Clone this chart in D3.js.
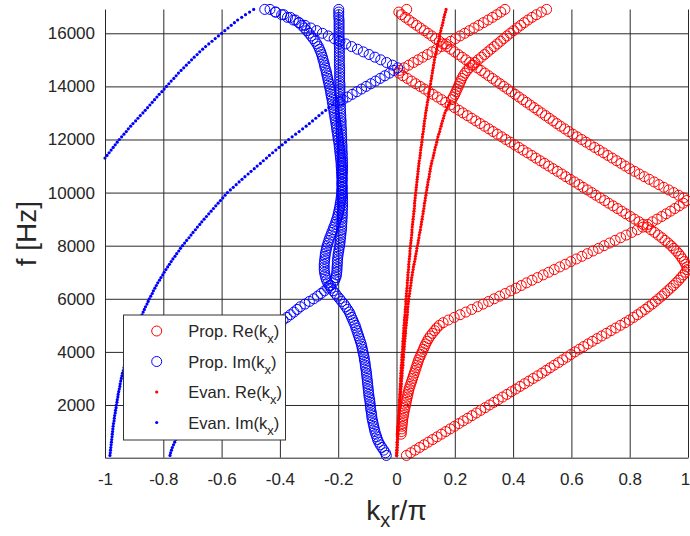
<!DOCTYPE html>
<html>
<head>
<meta charset="utf-8">
<script src="https://cdn.jsdelivr.net/npm/d3@7"></script>
<style>
  body { margin: 0; background: #fff; }
  svg text { font-family: "Liberation Sans", Arial, Helvetica, sans-serif; fill: #262626; }
</style>
</head>
<body>
<div id="chart"></div>
<script>
// solver frequency step [Hz]; every branch below is sampled on this grid
const fStep = 100;

const xTicks = [-1, -0.8, -0.6, -0.4, -0.2, 0, 0.2, 0.4, 0.6, 0.8, 1];
const yTicks = [2000, 4000, 6000, 8000, 10000, 12000, 14000, 16000];
const legendLabels = ['Prop. Re', 'Prop. Im', 'Evan. Re', 'Evan. Im'];

// propagating modes, Re(kx r/pi), first sample at 100 Hz
const propRe1 = [
  0.034,0.049,0.064,0.079,0.094,0.109,0.124,0.139,0.154,0.169,
  0.184,0.199,0.214,0.229,0.244,0.259,0.274,0.289,0.304,0.319,
  0.334,0.349,0.364,0.379,0.394,0.409,0.424,0.439,0.454,0.469,
  0.484,0.499,0.513,0.527,0.541,0.556,0.570,0.584,0.598,0.612,
  0.627,0.642,0.657,0.672,0.688,0.704,0.720,0.736,0.752,0.768,
  0.784,0.799,0.813,0.827,0.840,0.853,0.865,0.877,0.888,0.899,
  0.910,0.920,0.930,0.940,0.950,0.959,0.968,0.976,0.984,0.991,
  0.997,0.996,0.992,0.987,0.981,0.975,0.968,0.960,0.951,0.942,
  0.932,0.921,0.910,0.898,0.886,0.873,0.860,0.846,0.832,0.817,
  0.802,0.787,0.773,0.758,0.743,0.728,0.714,0.699,0.684,0.670,
  0.655,0.640,0.626,0.611,0.596,0.581,0.567,0.552,0.537,0.522,
  0.508,0.493,0.478,0.464,0.449,0.434,0.420,0.405,0.390,0.375,
  0.361,0.346,0.331,0.317,0.302,0.287,0.272,0.258,0.243,0.228,
  0.214,0.199,0.184,0.169,0.155,0.140,0.125,0.111,0.096,0.081,
  0.066,0.052,0.037,0.022,0.008,0.010,0.026,0.042,0.058,0.074,
  0.090,0.106,0.122,0.138,0.154,0.170,0.186,0.202,0.218,0.234,
  0.250,0.266,0.282,0.298,0.314,0.329,0.344,0.358,0.372
];
// first sample at 900 Hz
const propRe2 = [
  0.016,0.017,
  0.018,0.019,0.020,0.021,0.022,0.024,0.025,0.027,0.029,0.031,
  0.033,0.035,0.037,0.039,0.041,0.043,0.046,0.049,0.052,0.055,
  0.058,0.061,0.064,0.067,0.070,0.073,0.076,0.080,0.084,0.088,
  0.092,0.096,0.100,0.105,0.110,0.116,0.123,0.131,0.138,0.147,
  0.160,0.178,0.198,0.218,0.238,0.258,0.278,0.297,0.316,0.335,
  0.354,0.373,0.392,0.410,0.428,0.446,0.465,0.484,0.503,0.522,
  0.541,0.560,0.579,0.598,0.617,0.636,0.655,0.674,0.693,0.712,
  0.731,0.750,0.769,0.788,0.807,0.826,0.845,0.862,0.878,0.894,
  0.910,0.925,0.940,0.955,0.970,0.984,0.996,0.985,0.968,0.951,
  0.934,0.917,0.900,0.884,0.867,0.850,0.833,0.817,0.800,0.785,
  0.770,0.755,0.740,0.725,0.710,0.695,0.680,0.665,0.650,0.635,
  0.620,0.605,0.591,0.577,0.563,0.550,0.537,0.524,0.511,0.498,
  0.485,0.472,0.459,0.446,0.433,0.420,0.407,0.394,0.381,0.368,
  0.355,0.342,0.329,0.316,0.303,0.290,0.277,0.264,0.251,0.238,
  0.225,0.212,0.199,0.186,0.173,0.160,0.147,0.134,0.121,0.108,
  0.095,0.082,0.069,0.056,0.043,0.030,0.017,0.008,0.035
];
// first sample at 13500 Hz
const propRe3 = [
  0.190,0.195,0.200,0.204,0.208,0.212,0.216,0.220,0.224,0.229,
  0.235,0.242,0.250,0.259,0.269,0.280,0.291,0.302,0.313,0.324,
  0.335,0.346,0.357,0.368,0.379,0.390,0.402,0.414,0.426,0.438,
  0.451,0.465,0.480,0.497,0.515
];

// propagating modes, Im(kx r/pi); first sample at 100 Hz
const propIm1 = [
  -0.035,-0.038,-0.044,-0.050,-0.056,-0.061,-0.065,-0.068,-0.071,-0.074,
  -0.076,-0.078,-0.080,-0.082,-0.084,-0.085,-0.086,-0.088,-0.089,-0.090,
  -0.091,-0.092,-0.094,-0.095,-0.096,-0.097,-0.098,-0.099,-0.100,-0.101,
  -0.102,-0.103,-0.104,-0.106,-0.107,-0.108,-0.110,-0.111,-0.113,-0.115,
  -0.117,-0.119,-0.121,-0.124,-0.127,-0.130,-0.133,-0.136,-0.139,-0.142,
  -0.146,-0.150,-0.154,-0.158,-0.162,-0.168,-0.174,-0.180,-0.188,-0.195,
  -0.203,-0.210,-0.218,-0.225,-0.231,-0.236,-0.240,-0.243,-0.245,-0.247,
  -0.248,-0.248,-0.248,-0.247,-0.246,-0.245,-0.244,-0.242,-0.240,-0.238,
  -0.235,-0.232,-0.229,-0.225,-0.222,-0.218,-0.215,-0.211,-0.208,-0.205,
  -0.202,-0.200,-0.198,-0.196,-0.194,-0.193,-0.191,-0.190,-0.189,-0.188,
  -0.188,-0.187,-0.187,-0.187,-0.186,-0.186,-0.186,-0.185,-0.185,-0.185,
  -0.185,-0.185,-0.186,-0.186,-0.186,-0.187,-0.187,-0.187,-0.188,-0.188,
  -0.188,-0.189,-0.189,-0.189,-0.190,-0.190,-0.190,-0.191,-0.191,-0.192,
  -0.192,-0.192,-0.193,-0.193,-0.193,-0.193,-0.194,-0.194,-0.194,-0.194,
  -0.194,-0.195,-0.195,-0.195,-0.195,-0.195,-0.195,-0.196,-0.196,-0.196,
  -0.196,-0.196,-0.196,-0.196,-0.196,-0.197,-0.197,-0.197,-0.197,-0.197,
  -0.197,-0.197,-0.197,-0.197,-0.197,-0.198,-0.198,-0.198,-0.198
];
// first sample at 5100 Hz
const propIm2 = [
  -0.405,-0.389,-0.376,-0.364,-0.352,-0.341,-0.330,-0.314,-0.299,-0.284,
  -0.271,-0.259,-0.247,-0.236,-0.226,-0.218,-0.212,-0.208,-0.206,-0.205,
  -0.204,-0.204,-0.203,-0.203,-0.202,-0.201,-0.200,-0.198,-0.197,-0.195,
  -0.194,-0.193,-0.192,-0.191,-0.190,-0.189,-0.188,-0.188,-0.187,-0.187,
  -0.186,-0.186,-0.186,-0.185,-0.185,-0.185,-0.185,-0.185,-0.185,-0.186,
  -0.186,-0.186,-0.187,-0.187,-0.187,-0.188,-0.188,-0.189,-0.189,-0.190,
  -0.190,-0.191,-0.192,-0.193,-0.194,-0.195,-0.196,-0.197,-0.198,-0.200,
  -0.201,-0.202,-0.204,-0.205,-0.206,-0.208,-0.209,-0.211,-0.212,-0.214,
  -0.215,-0.217,-0.218,-0.220,-0.221,-0.223,-0.225,-0.226,-0.228,-0.230,
  -0.232,-0.234,-0.236,-0.238,-0.240,-0.242,-0.245,-0.247,-0.249,-0.252,
  -0.254,-0.257,-0.260,-0.264,-0.268,-0.273,-0.279,-0.286,-0.293,-0.300,
  -0.308,-0.316,-0.325,-0.335,-0.347,-0.364,-0.387,-0.416,-0.452
];
// first sample at 13400 Hz
const propIm3 = [
  -0.200,-0.184,-0.168,-0.152,-0.136,-0.120,-0.104,-0.088,-0.072,-0.056,
  -0.040,-0.024,-0.009,0.004,-0.014,-0.034,-0.054,-0.074,-0.094,-0.114,
  -0.134,-0.154,-0.174,-0.194,-0.214,-0.234,-0.254,-0.274,-0.294,-0.314,
  -0.334,-0.354,-0.374,-0.394,-0.414,-0.434
];

// evanescent modes, Re(kx r/pi); first sample at 100 Hz
const evanRe1 = [
  0.000,0.001,0.001,0.002,0.002,0.002,0.003,0.003,0.004,0.004,
  0.005,0.005,0.006,0.006,0.007,0.007,0.008,0.008,0.009,0.009,
  0.010,0.010,0.011,0.011,0.012,0.012,0.013,0.013,0.014,0.014,
  0.015,0.015,0.016,0.016,0.017,0.018,0.018,0.019,0.019,0.020,
  0.021,0.021,0.022,0.022,0.023,0.024,0.024,0.025,0.025,0.026,
  0.027,0.027,0.028,0.029,0.030,0.030,0.031,0.032,0.032,0.033,
  0.034,0.034,0.035,0.036,0.037,0.037,0.038,0.039,0.039,0.040,
  0.041,0.042,0.042,0.043,0.044,0.045,0.046,0.046,0.047,0.048,
  0.049,0.050,0.051,0.052,0.053,0.053,0.054,0.055,0.056,0.057,
  0.058,0.059,0.060,0.061,0.062,0.062,0.063,0.064,0.065,0.066,
  0.067,0.068,0.069,0.070,0.071,0.072,0.073,0.074,0.075,0.076,
  0.077,0.078,0.080,0.081,0.082,0.083,0.084,0.086,0.087,0.088,
  0.089,0.090,0.092,0.093,0.094,0.095,0.096,0.098,0.099,0.100,
  0.102,0.103,0.105,0.106,0.108,0.109,0.111,0.112,0.114,0.115,
  0.117,0.118,0.120,0.121,0.123,0.124,0.126,0.127,0.129,0.130,
  0.132,0.134,0.136,0.138,0.140,0.142,0.144,0.146,0.148,0.150,
  0.152,0.154,0.157,0.159,0.161,0.163,0.165,0.168,0.170
];
// first sample at 100 Hz
const evanRe2 = [
  0.001,0.001,0.002,0.002,0.003,0.003,0.004,0.004,0.005,0.005,
  0.006,0.006,0.007,0.007,0.008,0.009,0.009,0.010,0.010,0.011,
  0.012,0.012,0.013,0.014,0.015,0.015,0.016,0.017,0.017,0.018,
  0.019,0.019,0.020,0.021,0.022,0.022,0.023,0.024,0.024,0.025,
  0.026,0.027,0.027,0.028,0.029,0.030,0.031,0.031,0.032,0.033,
  0.034,0.035,0.036,0.037,0.038,0.038,0.039,0.040,0.041,0.042,
  0.043,0.045,0.046,0.047,0.049,0.050,0.051,0.052,0.054,0.055,
  0.057,0.058,0.060,0.062,0.064,0.065,0.067,0.069,0.070,0.072,
  0.074,0.075,0.077,0.078,0.080,0.082,0.083,0.085,0.086,0.088,
  0.089,0.091,0.092,0.094,0.095,0.096,0.098,0.099,0.101,0.102,
  0.104,0.105,0.107,0.108,0.110,0.112,0.113,0.115,0.116,0.118,
  0.120,0.122,0.125,0.127,0.129,0.131,0.133,0.136,0.138,0.140,
  0.142,0.145,0.148,0.150,0.153,0.155,0.158,0.161,0.163,0.166,
  0.170,0.174,0.178,0.182
];

// evanescent modes, Im(kx r/pi); first sample at 100 Hz
const evanIm1 = [
  -0.983,-0.982,-0.981,-0.980,-0.979,-0.978,-0.977,-0.976,-0.975,-0.974,
  -0.973,-0.972,-0.971,-0.969,-0.968,-0.967,-0.965,-0.964,-0.962,-0.961,
  -0.959,-0.958,-0.956,-0.955,-0.953,-0.951,-0.949,-0.948,-0.946,-0.944,
  -0.942,-0.940,-0.937,-0.935,-0.933,-0.930,-0.928,-0.925,-0.923,-0.920,
  -0.917,-0.914,-0.911,-0.908,-0.905,-0.902,-0.898,-0.895,-0.891,-0.888,
  -0.884,-0.880,-0.877,-0.873,-0.869,-0.865,-0.861,-0.856,-0.852,-0.848,
  -0.843,-0.838,-0.834,-0.829,-0.824,-0.819,-0.813,-0.808,-0.802,-0.797,
  -0.791,-0.785,-0.779,-0.773,-0.767,-0.760,-0.754,-0.747,-0.741,-0.734,
  -0.727,-0.720,-0.712,-0.705,-0.698,-0.690,-0.683,-0.675,-0.668,-0.660,
  -0.652,-0.644,-0.636,-0.628,-0.620,-0.612,-0.604,-0.596,-0.588,-0.580,
  -0.570,-0.560,-0.550,-0.540,-0.530,-0.520,-0.509,-0.499,-0.488,-0.478,
  -0.467,-0.457,-0.446,-0.436,-0.425,-0.414,-0.403,-0.392,-0.381,-0.370,
  -0.358,-0.346,-0.334,-0.322,-0.310,-0.299,-0.288,-0.277,-0.266,-0.255,
  -0.243,-0.232,-0.220
];
// first sample at 100 Hz
const evanIm2 = [-0.777,-0.775,-0.772,-0.769,-0.765,-0.761,-0.757,-0.752,-0.747];
// first sample at 11300 Hz
const evanIm3 = [
  -1.000,-0.993,-0.986,-0.979,-0.972,-0.965,-0.958,-0.951,-0.943,-0.935,
  -0.927,-0.920,-0.912,-0.904,-0.895,-0.887,-0.879,-0.870,-0.862,-0.854,
  -0.846,-0.838,-0.830,-0.822,-0.814,-0.805,-0.797,-0.789,-0.781,-0.773,
  -0.764,-0.756,-0.748,-0.739,-0.730,-0.721,-0.712,-0.703,-0.694,-0.684,
  -0.675,-0.665,-0.655,-0.644,-0.633,-0.622,-0.611,-0.600,-0.589,-0.578,
  -0.567,-0.556,-0.545,-0.531,-0.518,-0.504,-0.490
];

// [first frequency, values] per branch
const propReBranches = [[100, propRe1], [900, propRe2], [13500, propRe3]];
const propImBranches = [[100, propIm1], [5100, propIm2], [13400, propIm3]];
const evanReBranches = [[100, evanRe1], [100, evanRe2]];
const evanImBranches = [[100, evanIm1], [100, evanIm2], [11300, evanIm3]];

const W = 690, H = 536;
const plot = { left: 105, right: 688, top: 9.5, bottom: 457.7 };
const FONT = '"Liberation Sans", Arial, Helvetica, sans-serif';
const RED = '#ff0000', BLUE = '#0000ff';

const svg = d3.select('#chart').append('svg')
    .attr('width', W)
    .attr('height', H)
    .style('background', '#fff');

const x = d3.scaleLinear().domain([-1, 1]).range([plot.left, plot.right]);
const y = d3.scaleLinear().domain([15, 16896]).range([plot.bottom, plot.top]);

function toPoints(branches) {
    return branches.flatMap(([f0, vals]) => vals.map((k, i) => ({ f: f0 + i * fStep, k: k })));
}

// grid
svg.append('g')
    .attr('transform', `translate(0,${plot.bottom})`)
    .call(d3.axisBottom(x).tickValues(xTicks).tickSize(-(plot.bottom - plot.top)).tickFormat(''))
    .call(g => g.select('.domain').remove())
    .selectAll('line').attr('stroke', '#2a2a2a');
svg.append('g')
    .attr('transform', `translate(${plot.left},0)`)
    .call(d3.axisLeft(y).tickValues(yTicks).tickSize(-(plot.right - plot.left)).tickFormat(''))
    .call(g => g.select('.domain').remove())
    .selectAll('line').attr('stroke', '#2a2a2a');

// data: circles for propagating, dots for evanescent
function drawCircles(branches, color) {
    svg.append('g').selectAll('circle')
        .data(toPoints(branches))
        .join('circle')
        .attr('cx', d => x(d.k))
        .attr('cy', d => y(d.f))
        .attr('r', 5)
        .attr('fill', 'none')
        .attr('stroke', color)
        .attr('stroke-width', 1);
}
function drawDots(branches, color) {
    svg.append('g').selectAll('circle')
        .data(toPoints(branches))
        .join('circle')
        .attr('cx', d => x(d.k))
        .attr('cy', d => y(d.f))
        .attr('r', 1.6)
        .attr('fill', color);
}
drawCircles(propReBranches, RED);
drawCircles(propImBranches, BLUE);
drawDots(evanReBranches, RED);
drawDots(evanImBranches, BLUE);

// axes
let xAxis = svg.append('g')
    .attr('transform', `translate(0,${plot.bottom})`)
    .call(d3.axisBottom(x).tickValues(xTicks).tickSize(0).tickPadding(15).tickFormat(d => String(d)));
let yAxis = svg.append('g')
    .attr('transform', `translate(${plot.left},0)`)
    .call(d3.axisLeft(y).tickValues(yTicks).tickSize(0).tickPadding(10).tickFormat(d => String(d)));
[xAxis, yAxis].forEach(g => {
    g.attr('font-size', 17).attr('font-family', FONT).attr('color', '#262626');
    g.select('.domain').attr('stroke', '#262626');
});
// the last x label sits on the window edge, as in the original; nudge it inside
xAxis.selectAll('.tick').filter(d => d === 1).select('text').attr('dx', -3);

// axis labels
let xl = svg.append('text')
    .attr('x', (plot.left + plot.right) / 2)
    .attr('y', 520)
    .attr('text-anchor', 'middle')
    .attr('font-size', 28);
xl.append('tspan').text('k');
xl.append('tspan').attr('font-size', 20).attr('dy', 7).text('x');
xl.append('tspan').attr('dy', -7).text('r/');
xl.append('tspan').text('π');

svg.append('text')
    .attr('transform', `translate(36,${(plot.top + plot.bottom) / 2}) rotate(-90)`)
    .attr('text-anchor', 'middle')
    .attr('font-size', 28)
    .text('f [Hz]');

// legend
let legend = svg.append('g').attr('transform', 'translate(123.5,315)');
legend.append('rect')
    .attr('width', 162).attr('height', 125)
    .attr('fill', '#fff').attr('stroke', '#333').attr('stroke-width', 1);
const legendStyle = [[RED, 'o'], [BLUE, 'o'], [RED, '.'], [BLUE, '.']];
legendLabels.forEach((lab, i) => {
    let cy = 16 + i * 30.5;
    let [color, kind] = legendStyle[i];
    if (kind === 'o') {
        legend.append('circle').attr('cx', 33.2).attr('cy', cy).attr('r', 5)
            .attr('fill', 'none').attr('stroke', color).attr('stroke-width', 1);
    } else {
        legend.append('circle').attr('cx', 33.2).attr('cy', cy).attr('r', 1.6).attr('fill', color);
    }
    let t = legend.append('text').attr('x', 64.8).attr('y', cy + 6).attr('font-size', 16.5);
    t.append('tspan').text(lab + '(k');
    t.append('tspan').attr('font-size', 13).attr('dy', 6).text('x');
    t.append('tspan').attr('dy', -6).text(')');
});
</script>
</body>
</html>
